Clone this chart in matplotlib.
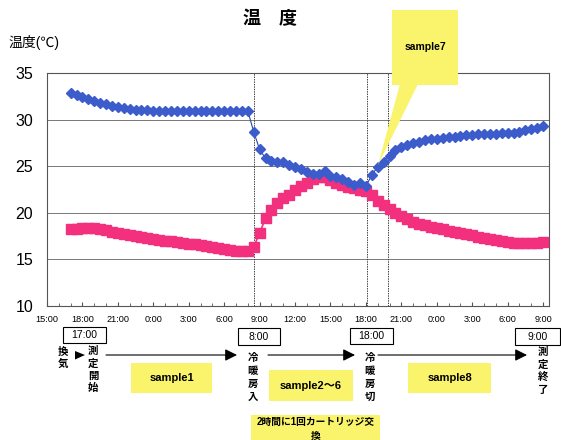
import numpy as np
import matplotlib
matplotlib.use("Agg")
import matplotlib.pyplot as plt
from matplotlib.patches import Rectangle, Polygon, FancyArrowPatch

plt.rcParams['font.family'] = ['Liberation Sans', 'Noto Sans CJK JP', 'DejaVu Sans']

# ---- 測定データ（15:00 を 0 とした経過時間, 30分ごと 17:00〜翌々日9:00）----
hours = np.arange(2, 42.01, 0.5)

temp_a = [
    32.9, 32.65, 32.45, 32.25, 32.0, 31.8, 31.65, 31.5, 31.4, 31.28,
    31.18, 31.1, 31.05, 31.0, 30.95, 30.9, 30.9, 30.9, 30.9, 30.9,
    30.9, 30.9, 30.9, 30.9, 30.9, 30.9, 30.9, 30.9, 30.9, 30.9,
    30.95, 28.7, 26.8, 25.85, 25.55, 25.45, 25.4, 25.1, 24.95, 24.65,
    24.4, 24.15, 24.15, 24.5, 23.95, 23.8, 23.6, 23.3, 23.0, 23.2,
    22.85, 24.05, 24.95, 25.5, 26.1, 26.7, 27.05, 27.3, 27.5, 27.65,
    27.78, 27.88, 27.97, 28.05, 28.1, 28.18, 28.27, 28.33, 28.38, 28.42,
    28.46, 28.5, 28.5, 28.52, 28.55, 28.62, 28.72, 28.85, 29.0, 29.15,
    29.35]

temp_b = [
    18.2, 18.28, 18.32, 18.34, 18.3, 18.2, 18.1, 17.95, 17.8, 17.65,
    17.55, 17.45, 17.35, 17.25, 17.15, 17.05, 16.97, 16.9, 16.8, 16.73,
    16.65, 16.57, 16.48, 16.4, 16.3, 16.2, 16.1, 15.98, 15.9, 15.87,
    15.9, 16.3, 17.8, 19.4, 20.3, 21.0, 21.55, 21.9, 22.4, 22.85,
    23.2, 23.6, 23.85, 23.8, 23.5, 23.15, 22.97, 22.8, 22.6, 22.45,
    22.35, 21.95, 21.3, 20.8, 20.35, 19.95, 19.6, 19.3, 19.0, 18.8,
    18.63, 18.48, 18.33, 18.2, 18.05, 17.92, 17.8, 17.68, 17.55, 17.42,
    17.28, 17.12, 17.02, 16.92, 16.8, 16.73, 16.7, 16.7, 16.7, 16.75,
    16.85]

tick_hours = list(range(0, 43, 3))
tick_labels = ["15:00", "18:00", "21:00", "0:00", "3:00", "6:00", "9:00",
               "12:00", "15:00", "18:00", "21:00", "0:00", "3:00", "6:00", "9:00"]

# 冷暖房入・冷暖房切・sample7 の区切り線
event_hours = [17.5, 27.1, 28.9]

W, H = 561, 440
YELLOW = "#FAF36C"


def px(x, y):
    return (x / W, 1 - y / H)


fig = plt.figure(figsize=(W / 100, H / 100), dpi=100)
ax = fig.add_axes([47 / W, 1 - 305.5 / H, (549 - 47) / W, (305.5 - 73.3) / H])

ax.plot(hours, temp_b, color="#F2307E", marker="s", markersize=6.8, lw=1.2, zorder=3)
ax.plot(hours, temp_a, color="#2E45A6", lw=0.8, marker="D", markersize=4.9,
        markerfacecolor="#3D5CCB", markeredgecolor="#3D5CCB", zorder=4)

ax.set_xlim(0, 42.5)
ax.set_ylim(10, 35)
ax.set_yticks(range(10, 36, 5))
ax.set_xticks(tick_hours)
ax.set_xticklabels(tick_labels, fontsize=6.6)
ax.set_xticks(range(0, 43), minor=True)
ax.tick_params(axis="y", length=0, pad=10, labelsize=11.5)
ax.tick_params(axis="x", which="major", direction="in", length=3, pad=7, color="#555")
ax.tick_params(axis="x", which="minor", direction="in", length=2, color="#555")
ax.grid(axis="y", color="#777", lw=0.7)
for h in event_hours:
    ax.axvline(h, color="#444", lw=0.7, ls=(0, (1.5, 1)))
for s in ax.spines.values():
    s.set_color("#555")
    s.set_linewidth(0.8)

# タイトルと軸ラベル
fig.text(*px(270, 19), "温　度", ha="center", va="center", fontsize=13, fontweight="bold")
fig.text(*px(8, 42), "温度(℃)", ha="left", va="center", fontsize=10)

# sample7 の吹き出し
fig.add_artist(Polygon([px(400, 84), px(418, 84), px(378, 165)], closed=True,
                       transform=fig.transFigure, fc=YELLOW, ec="none", zorder=2))
fig.add_artist(Rectangle(px(392, 85), 66 / W, 75 / H, transform=fig.transFigure,
                         fc=YELLOW, ec="none", zorder=5))
fig.text(*px(425, 47), "sample7", ha="center", va="center", fontsize=7.5,
         fontweight="bold", zorder=6)

# 時刻の枠
for x0, x1, y0, y1, label in [(63, 106, 327, 343, "17:00"), (238, 280, 328, 345, "8:00"),
                              (350, 393, 328, 344, "18:00"), (515, 560, 328, 345, "9:00")]:
    fig.add_artist(Rectangle(px(x0, y1), (x1 - x0) / W, (y1 - y0) / H,
                             transform=fig.transFigure, fc="white", ec="black", lw=0.8))
    fig.text(*px((x0 + x1) / 2, (y0 + y1) / 2), label, ha="center", va="center", fontsize=7.5)

# 縦書きの注記
for x, y0, step, word in [(63, 352, 11.5, "換気"), (93, 351, 12.4, "測定開始"),
                          (253, 358, 13, "冷暖房入"), (370, 358, 13, "冷暖房切"),
                          (543, 352, 12.6, "測定終了")]:
    for k, ch in enumerate(word):
        fig.text(*px(x, y0 + k * step), ch, ha="center", va="center",
                 fontsize=7.5, fontweight="bold")

# 矢印
fig.add_artist(Polygon([px(75, 351), px(75, 359.5), px(85, 355)], closed=True,
                       transform=fig.transFigure, fc="black", ec="none"))
for x1, x2 in [(106, 237), (268, 355), (378, 527)]:
    fig.add_artist(FancyArrowPatch(px(x1, 355), px(x2, 355), transform=fig.transFigure,
                                   arrowstyle="-|>,head_length=0.4,head_width=0.2",
                                   mutation_scale=18, lw=0.8, color="black",
                                   shrinkA=0, shrinkB=0))

# サンプル区間の枠
for x0, x1, y0, y1, label in [(131, 212, 363, 393, "sample1"),
                              (269, 353, 370, 401, "sample2～6"),
                              (408, 491, 363, 393, "sample8")]:
    fig.add_artist(Rectangle(px(x0, y1), (x1 - x0) / W, (y1 - y0) / H,
                             transform=fig.transFigure, fc=YELLOW, ec="none"))
    fig.text(*px((x0 + x1) / 2, (y0 + y1) / 2), label, ha="center", va="center",
             fontsize=8, fontweight="bold")

fig.add_artist(Rectangle(px(251, 441), 129 / W, 26 / H, transform=fig.transFigure,
                         fc=YELLOW, ec="none"))
fig.text(*px(315.5, 422), "2時間に1回カートリッジ交", ha="center", va="center",
         fontsize=7, fontweight="bold")
fig.text(*px(315.5, 435.5), "換", ha="center", va="center", fontsize=7, fontweight="bold")

fig.savefig("out.png", dpi=100)
